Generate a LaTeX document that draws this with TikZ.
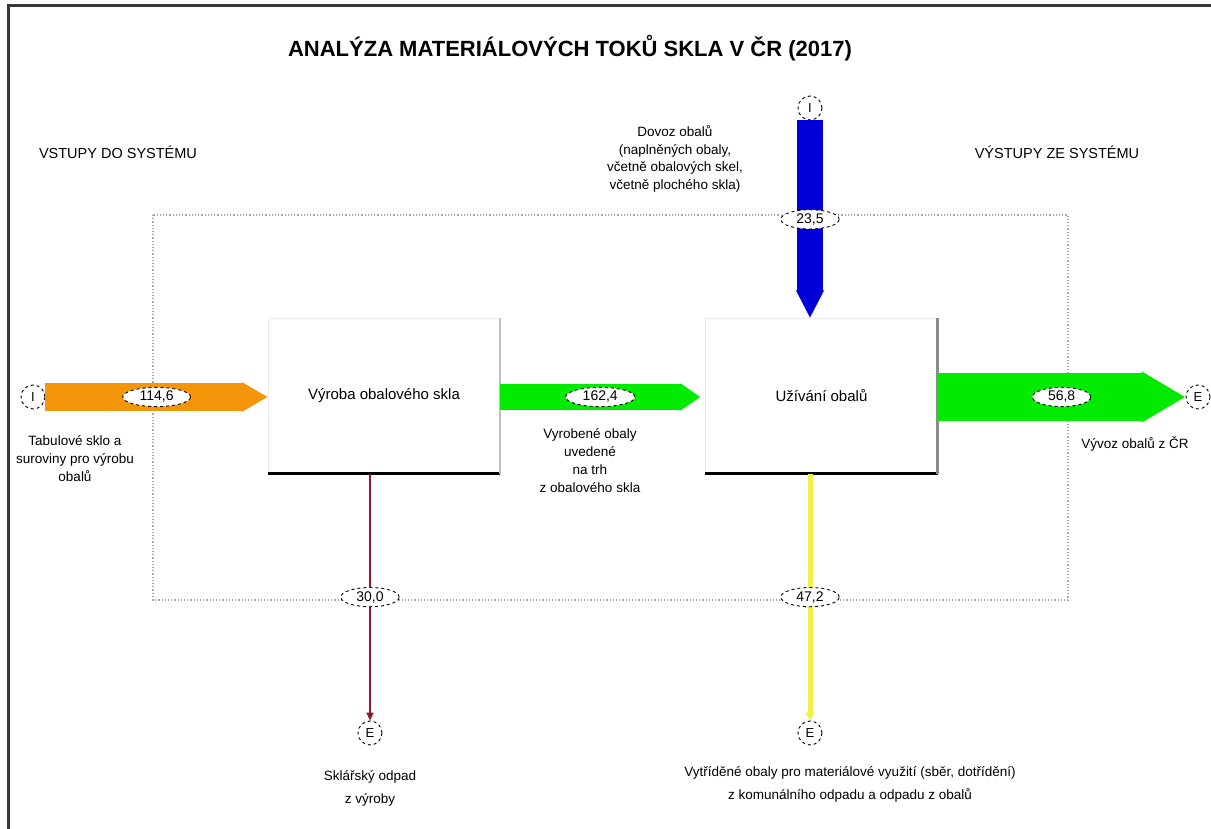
\documentclass[tikz,border=0pt]{standalone}
\usepackage{fontspec}
\setmainfont{Liberation Sans}
\usetikzlibrary{arrows.meta,shapes.geometric}
\definecolor{orangeflow}{RGB}{245,150,10}
\definecolor{greenflow}{RGB}{0,235,0}
\definecolor{blueflow}{RGB}{0,0,215}
\definecolor{redflow}{RGB}{140,25,45}
\definecolor{yellowflow}{RGB}{240,240,70}
\definecolor{frame}{RGB}{55,55,55}

\begin{document}
\begin{tikzpicture}[x=1pt,y=-1pt]
\tikzstyle{every node}+=[inner sep=0pt]
\tikzstyle{proc}=[draw=black!8,minimum width=232pt,minimum height=155pt,font=\fontsize{15}{17}\selectfont]
\tikzstyle{port}=[circle,draw=black,dashed,line width=0.9pt,fill=white,minimum size=24pt,font=\fontsize{13}{14}\selectfont]
\tikzstyle{amount}=[ellipse,draw=black,dashed,line width=0.9pt,fill=white,text=black,inner xsep=7pt,inner ysep=1pt,font=\fontsize{14}{15}\selectfont]
\tikzstyle{note}=[align=center,text=black,font=\fontsize{13.5}{18}\selectfont]
\useasboundingbox (0,0) rectangle (1211,829);
\draw [frame,line width=3pt] (8,829) -- (8,6) -- (1211,6);
\node [font=\bfseries\fontsize{22}{24}\selectfont] (title) at (570,48) {ANALÝZA MATERIÁLOVÝCH TOKŮ SKLA V ČR (2017)};
\node [font=\fontsize{14.5}{16}\selectfont] (inputs) at (118,152) {VSTUPY DO SYSTÉMU};
\node [font=\fontsize{14.5}{16}\selectfont] (outputs) at (1057,152) {VÝSTUPY ZE SYSTÉMU};
\draw [black!35,dotted,line width=1.2pt] (153,215) rectangle (1068,600);%system
% processes
\node [proc] (p1) at (384,396) {Výroba obalového skla};
\node [proc] (p2) at (821.5,396) {Užívání obalů};
\draw [black,line width=3pt] (p1.south west) -- (p1.south east);
\draw [black!25,line width=2pt] (p1.south east) -- (p1.north east);
\draw [black,line width=3pt] (p2.south west) -- (p2.south east);
\draw [black!45,line width=3pt] (p2.south east) -- (p2.north east);
% imports and exports
\node [port] (in1) at (33,397) {I};
\node [port] (in2) at (810,108) {I};
\node [port] (out1) at (1198,397) {E};
\node [port] (out2) at (370,733) {E};
\node [port] (out3) at (810,733) {E};
% flows
\draw [orangeflow,line width=28pt,-{Triangle[length=26pt,width=28pt]}] (in1.east) -- (in1.east -| p1.west) node [amount,midway] {114,6};
\draw [greenflow,line width=26pt,-{Triangle[length=20pt,width=26pt]}] (p1.east |- in1) -- ([xshift=-5pt]p2.west |- in1) node [amount,midway] {162,4};
\draw [greenflow,line width=48pt,-{Triangle[length=44pt,width=48pt]}] (p2.east |- out1) -- (out1.west) node [amount,midway] {56,8};
\draw [blueflow,line width=26pt,-{Triangle[length=28pt,width=26pt]}] (in2.south) -- (in2.south |- p2.north) node [amount,midway] {23,5};
\draw [redflow,line width=2.5pt,-{Triangle[length=8pt,width=7pt]}] (p1.south -| out2) -- (out2.north) node [amount,midway] {30,0};
\draw [yellowflow,line width=5pt,-{Triangle[length=8pt,width=9pt]}] (p2.south -| out3) -- (out3.north) node [amount,midway] {47,2};
% texts
\node [note] (in1txt) at (75,459) {Tabulové sklo a\\suroviny pro výrobu\\obalů};
\node [note,font=\fontsize{13.5}{17.5}\selectfont] (in2txt) at (675,159) {Dovoz obalů\\(naplněných obaly,\\včetně obalových skel,\\včetně plochého skla)};
\node [note] (p1txt) at (590,461) {Vyrobené obaly\\uvedené\\na trh\\z obalového skla};
\node [note] (out1txt) at (1135,444) {Vývoz obalů z ČR};
\node [note,font=\fontsize{13.5}{23}\selectfont] (out2txt) at (370,788) {Sklářský odpad\\z výroby};
\node [note,font=\fontsize{13.5}{23}\selectfont] (out3txt) at (850,784) {Vytříděné obaly pro materiálové využití (sběr, dotřídění)\\z komunálního odpadu a odpadu z obalů};
\end{tikzpicture}
\end{document}
